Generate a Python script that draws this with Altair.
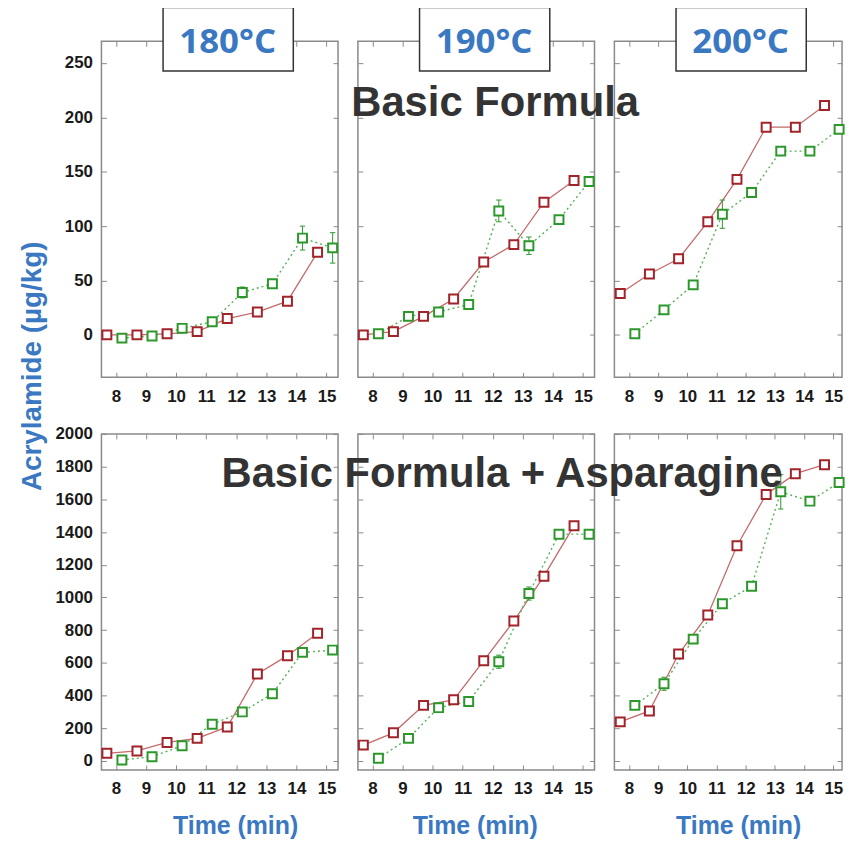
import altair as alt
import pandas as pd

# ---------------- data ----------------
times = [8, 9, 10, 11, 12, 13, 14, 15]
temps = ["180°C", "190°C", "200°C"]
formulas = ["Basic Formula", "Basic Formula + Asparagine"]
y_title = "Acrylamide (µg/kg)"
x_title = "Time (min)"

# Basic Formula (red = solid series, green = dotted series)
basic_red_180 = [0, 0, 1, 3, 15, 21, 31, 76]
basic_red_190 = [0, 3, 17, 33, 67, 83, 122, 142]
basic_red_200 = [38, 56, 70, 104, 143, 191, 191, 211]
basic_green_180 = [-3, -1, 6, 12, 39, 47, 89, 80]
basic_green_190 = [1, 17, 21, 28, 114, 82, 106, 141]
basic_green_200 = [1, 23, 46, 111, 131, 169, 169, 189]
basic_green_err_180 = [0, 0, 0, 0, 5, 0, 11, 14]
basic_green_err_190 = [0, 0, 0, 4, 10, 8, 0, 0]
basic_green_err_200 = [0, 0, 0, 13, 0, 0, 0, 0]

# Basic Formula + Asparagine
asn_red_180 = [47, 61, 113, 138, 208, 532, 644, 781]
asn_red_190 = [97, 172, 340, 374, 613, 856, 1130, 1439]
asn_red_200 = [239, 306, 654, 893, 1316, 1630, 1757, 1812]
asn_green_180 = [6, 26, 93, 225, 300, 411, 664, 678]
asn_green_190 = [16, 138, 326, 364, 607, 1024, 1387, 1387]
asn_green_200 = [340, 472, 745, 962, 1069, 1646, 1589, 1703]
asn_green_err_180 = [0, 0, 0, 0, 0, 0, 0, 0]
asn_green_err_190 = [0, 0, 0, 0, 40, 40, 0, 0]
asn_green_err_200 = [0, 40, 0, 0, 0, 105, 0, 0]

top_yticks = [0, 50, 100, 150, 200, 250]
bot_yticks = [0, 200, 400, 600, 800, 1000, 1200, 1400, 1600, 1800, 2000]

# ---------------- style ----------------
RED = "#a3232a"
RED_LINE = "#c46b6b"
GREEN = "#2c982c"
GREEN_LINE = "#55b055"
BLUE = "#3a78c2"
DARK = "#333333"
FRAME = "#8a8a8a"

W = 238
W_RIGHT = 229
H = 338


def make_df(red, green, green_err):
    rows = []
    for t, v in zip(times, red):
        rows.append({"time": t, "series": "red", "value": v, "err": 0})
    for t, v, e in zip(times, green, green_err):
        rows.append({"time": t, "series": "green", "value": v, "err": e})
    return pd.DataFrame(rows)


def annot():
    return alt.Chart(alt.Data(values=[{"k": 0}]))


def panel(df, width, xdom, ydom, yticks, show_ylabels, extras):
    base = alt.Chart(df).transform_calculate(
        x="datum.time + (datum.series == 'red' ? -0.3 : 0.2)",
        lo="datum.value - datum.err",
        hi="datum.value + datum.err",
        xl="datum.time + 0.2 - 0.09",
        xr="datum.time + 0.2 + 0.09",
    )
    xs = alt.Scale(domain=xdom, nice=False, zero=False)
    ys = alt.Scale(domain=ydom, nice=False, zero=False)
    ax_x = alt.Axis(orient="bottom", offset=-5, tickSize=5, values=times, labelPadding=11,
                    domain=False, grid=False, title=None, labelOverlap=False, labelFlush=False,
                    format="d")
    ax_y = alt.Axis(orient="left", offset=-5, tickSize=5, values=yticks, labels=show_ylabels,
                    labelPadding=9, domain=False, grid=False, title=None,
                    labelOverlap=False, labelFlush=False, format="d")
    ax_top = alt.Axis(orient="top", offset=-5, tickSize=5, values=times, labels=False,
                      domain=False, grid=False, title=None)
    ax_right = alt.Axis(orient="right", offset=-5, tickSize=5, values=yticks, labels=False,
                        domain=False, grid=False, title=None)

    red_line = base.transform_filter("datum.series == 'red'").mark_line(
        color=RED_LINE, strokeWidth=1.3).encode(
        x=alt.X("x:Q", scale=xs, axis=ax_x),
        y=alt.Y("value:Q", scale=ys, axis=ax_y))
    green_line = base.transform_filter("datum.series == 'green'").mark_line(
        color=GREEN_LINE, strokeWidth=1.4, strokeDash=[2, 3]).encode(
        x=alt.X("x:Q", scale=xs, axis=ax_top),
        y=alt.Y("value:Q", scale=ys, axis=ax_right))
    errs = base.transform_filter("datum.err > 0")
    err_rule = errs.mark_rule(color=GREEN, strokeWidth=1).encode(
        x=alt.X("x:Q", axis=None), y=alt.Y("lo:Q", axis=None), y2="hi:Q")
    cap_lo = errs.mark_rule(color=GREEN, strokeWidth=1).encode(
        x=alt.X("xl:Q", axis=None), x2="xr:Q", y=alt.Y("lo:Q", axis=None))
    cap_hi = errs.mark_rule(color=GREEN, strokeWidth=1).encode(
        x=alt.X("xl:Q", axis=None), x2="xr:Q", y=alt.Y("hi:Q", axis=None))
    pts = base.mark_point(shape="square", filled=False, fill="white", fillOpacity=1,
                          size=81, strokeWidth=2, opacity=1).encode(
        x=alt.X("x:Q", axis=None),
        y=alt.Y("value:Q", axis=None),
        color=alt.Color("series:N", scale=alt.Scale(domain=["red", "green"], range=[RED, GREEN]),
                        legend=None))
    layers = [red_line, green_line, err_rule, cap_lo, cap_hi, pts] + extras
    return alt.layer(*layers).resolve_axis(x="independent", y="independent").properties(
        width=width, height=H)


def temp_box(label):
    box = annot().mark_rect(fill="white", stroke="#333333", strokeWidth=1.5).encode(
        x=alt.value(62), x2=alt.value(193), y=alt.value(-34), y2=alt.value(30))
    txt = annot().mark_text(text=label, font="Open Sans", fontWeight="bold", fontSize=35,
                            color=BLUE, align="center", baseline="alphabetic").encode(
        x=alt.value(127), y=alt.value(12))
    return [box, txt]


def big_text(label, x, y):
    return annot().mark_text(text=label, font="Liberation Sans", fontWeight="bold", fontSize=42,
                             color=DARK, align="center", baseline="alphabetic").encode(
        x=alt.value(x), y=alt.value(y))


def time_title(x):
    return annot().mark_text(text=x_title, font="Liberation Sans", fontWeight="bold", fontSize=25,
                             color=BLUE, align="center", baseline="alphabetic").encode(
        x=alt.value(x), y=alt.value(H + 64))


ylab = annot().mark_text(text=y_title, font="Liberation Sans", fontWeight="bold", fontSize=28,
                         color=BLUE, align="center", baseline="middle", angle=270).encode(
    x=alt.value(-69), y=alt.value(327))

XDOM = [7.52, 15.38]
XDOM_R = [7.5, 15.3]
TOP_YDOM = [-39, 270]
BOT_YDOM = [-55, 2000]

top = [
    panel(make_df(basic_red_180, basic_green_180, basic_green_err_180), W, XDOM, TOP_YDOM,
          top_yticks, True, temp_box(temps[0]) + [ylab]),
    panel(make_df(basic_red_190, basic_green_190, basic_green_err_190), W, XDOM, TOP_YDOM,
          top_yticks, False, temp_box(temps[1])),
    panel(make_df(basic_red_200, basic_green_200, basic_green_err_200), W_RIGHT, XDOM_R, TOP_YDOM,
          top_yticks, False, temp_box(temps[2]) + [big_text(formulas[0], -120, 75)]),
]
bottom = [
    panel(make_df(asn_red_180, asn_green_180, asn_green_err_180), W, XDOM, BOT_YDOM,
          bot_yticks, True, [time_title(135)]),
    panel(make_df(asn_red_190, asn_green_190, asn_green_err_190), W, XDOM, BOT_YDOM,
          bot_yticks, False, [time_title(118)]),
    panel(make_df(asn_red_200, asn_green_200, asn_green_err_200), W_RIGHT, XDOM_R, BOT_YDOM,
          bot_yticks, False, [time_title(125), big_text(formulas[1], -113, 53)]),
]

chart = alt.concat(
    *top, *bottom, columns=3, bounds="flush",
    spacing=alt.RowColnumber(row=57, column=20),
).properties(
    padding={"left": 10, "top": -5, "right": 0, "bottom": 0}
).configure_view(
    stroke=FRAME, strokeWidth=1.5
).configure_axis(
    tickColor=FRAME, tickWidth=1, labelFont="Liberation Sans", labelFontWeight="bold",
    labelFontSize=17, labelColor="#1a1a1a"
)

chart.save("out.html", embed_options={"renderer": "svg", "actions": False})
